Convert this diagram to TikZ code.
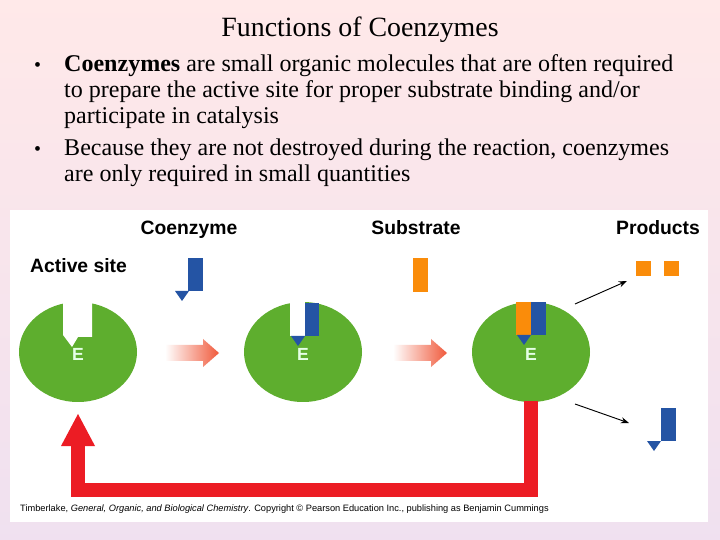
\documentclass[tikz,border=0pt]{standalone}
\usepackage{fontspec}
\setmainfont{Liberation Serif}
\setsansfont{Liberation Sans}
\usetikzlibrary{arrows.meta}
\definecolor{enzgreen}{RGB}{94,174,46}
\definecolor{coblue}{RGB}{36,84,164}
\definecolor{suborange}{RGB}{250,140,10}
\definecolor{loopred}{RGB}{236,28,36}
\definecolor{stepred}{RGB}{240,90,60}
\tikzset{
    every node/.append style={inner sep=0pt},
    enzyme/.style={fill=enzgreen, draw=none},
    hdr/.style={font=\sffamily\bfseries\fontsize{16.5}{16.5}\selectfont, anchor=base},
    elabel/.style={font=\sffamily\bfseries\fontsize{15}{15}\selectfont, text=white!90!green},
    line/.style={font=\fontsize{20.5}{22}\selectfont, anchor=base west},
    dot/.style={font=\fontsize{17}{22}\selectfont, anchor=base west},
    stepper/.style={left color=white, right color=stepred, draw=none},
    thin arrow/.style={-{Stealth[length=7pt]}, thick},
}
\begin{document}
\begin{tikzpicture}[x=0.03cm, y=-0.03cm]
  % background
  \shade[top color=pink!35!white, bottom color=violet!12!white] (0,0) rectangle (720,540);
  \useasboundingbox (0,0) rectangle (720,540);
  \fill[white] (10,210) rectangle (708,522);

  % title and bullets
  \node[font=\fontsize{23.8}{24}\selectfont, anchor=base] (title) at (360,37) {Functions of Coenzymes};
  \node[dot] (b1) at (34,72) {\textbullet};
  \node[line] (l1) at (64,72) {\textbf{Coenzymes} are small organic molecules that are often required};
  \node[line] (l2) at (64,98) {to prepare the active site for proper substrate binding and/or};
  \node[line] (l3) at (64,124) {participate in catalysis};
  \node[dot] (b2) at (34,156) {\textbullet};
  \node[line] (l4) at (64,156) {Because they are not destroyed during the reaction, coenzymes};
  \node[line] (l5) at (64,182) {are only required in small quantities};

  % labels
  \node[hdr] (coenz) at (189,235) {Coenzyme};
  \node[hdr] (subs) at (416,235) {Substrate};
  \node[hdr] (prod) at (658,235) {Products};
  \node[hdr, anchor=base west] (site) at (30,273) {Active site};

  % enzymes
  \fill[enzyme] (78,352) ellipse [x radius=59, y radius=50];
  \fill[white] (63,295) -- (63,335) -- (72,347) -- (78,337) -- (92,337) -- (92,295) -- cycle;
  \fill[enzyme] (303,352) ellipse [x radius=59, y radius=50];
  \fill[white] (290,295) rectangle (305,336);
  \fill[enzyme] (531,352) ellipse [x radius=59, y radius=50];
  \node[elabel] (e1) at (78,354) {E};
  \node[elabel] (e2) at (303,354) {E};
  \node[elabel] (e3) at (531,354) {E};

  % coenzyme and substrate pieces
  \fill[coblue] (188,258) rectangle (203,291);
  \fill[coblue] (175,291) -- (189,291) -- (182,301) -- cycle;
  \fill[coblue] (305,303) rectangle (319,336);
  \fill[coblue] (291,336) -- (305,336) -- (298,346) -- cycle;
  \fill[suborange] (413,258) rectangle (428,292);
  \fill[suborange] (516,302) rectangle (531,335);
  \fill[coblue] (531,302) rectangle (546,335);
  \fill[coblue] (517,335) -- (531,335) -- (524,345) -- cycle;

  % products
  \fill[suborange] (636,261) rectangle (651,276);
  \fill[suborange] (664,261) rectangle (679,276);
  \fill[coblue] (661,408) rectangle (676,441);
  \fill[coblue] (647,441) -- (661,441) -- (654,451) -- cycle;

  % step arrows
  \shade[stepper] (165,345) -- (203,345) -- (203,339) -- (219,353) -- (203,367) -- (203,361) -- (165,361) -- cycle;
  \shade[stepper] (393,345) -- (431,345) -- (431,339) -- (447,353) -- (431,367) -- (431,361) -- (393,361) -- cycle;

  % product arrows
  \coordinate (p1s) at (575,304);
  \coordinate (p1e) at (627,281);
  \coordinate (p2s) at (575,404);
  \coordinate (p2e) at (629,423);
  \draw[thin arrow] (p1s) -- (p1e);
  \draw[thin arrow] (p2s) -- (p2e);

  % recycle loop
  \draw[loopred, line width=12pt] (531,401) -- (531,490) -- (78,490) -- (78,442);
  \fill[loopred] (61,446) -- (78,414) -- (95,446) -- cycle;

  % credit
  \node[font=\sffamily\fontsize{7.9}{8}\selectfont, anchor=base west] (credit) at (20,511)
    {Timberlake, \textit{General, Organic, and Biological Chemistry}. Copyright \textcopyright{} Pearson Education Inc., publishing as Benjamin Cummings};
\end{tikzpicture}
\end{document}
